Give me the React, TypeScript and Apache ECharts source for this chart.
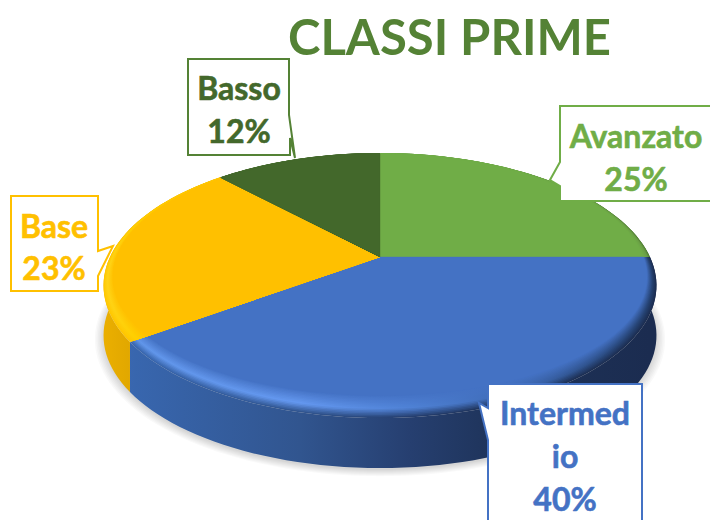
import React, { useEffect, useRef } from "react";
import * as echarts from "echarts";

const titleText = "CLASSI PRIME";
const categories = ["Avanzato", "Intermedio", "Base", "Basso"];
const percentValues = [25, 40, 23, 12];
const labelLines = [["Avanzato"], ["Intermed", "io"], ["Base"], ["Basso"]];

const faceColors = ["#70AD47", "#4472C4", "#FFC000", "#43682B"];
const textColors = ["#70AD47", "#4472C4", "#FFC000", "#43682B"];
const borderColors = ["#70AD47", "#4472C4", "#FFC000", "#548235"];

const stopX = [100, 135, 300, 410, 500, 650];
const peakColors = [
  ["#70AD47", "#70AD47", "#70AD47", "#70AD47", "#70AD47", "#6A9F45"],
  ["#6A9DEE", "#6196EA", "#6498F0", "#4F82D6", "#3F6CB8", "#24406F"],
  ["#FFD51F", "#FFD000", "#FFC000", "#FFC000", "#FFC000", "#FFC000"],
  ["#43682B", "#43682B", "#43682B", "#43682B", "#43682B", "#43682B"],
];
const wallColors = [
  ["#5A8C38", "#5A8C38", "#5A8C38", "#5A8C38", "#5A8C38", "#46702C"],
  ["#3F6BB4", "#3866AE", "#31558F", "#263F70", "#1E3359", "#1B2C50"],
  ["#ECB000", "#DFA600", "#DFA600", "#DFA600", "#DFA600", "#DFA600"],
  ["#43682B", "#43682B", "#43682B", "#43682B", "#43682B", "#43682B"],
];
const rimOuterColors = [
  ["#6BA544", "#6BA544", "#6BA544", "#6BA544", "#6BA544", "#4E7C32"],
  ["#3F6BB4", "#3866AE", "#31558F", "#263F70", "#1E3359", "#1B2C50"],
  ["#FFC800", "#FFC400", "#FFC000", "#FFC000", "#FFC000", "#FFC000"],
  ["#43682B", "#43682B", "#43682B", "#43682B", "#43682B", "#43682B"],
];

const CX = 380, CY = 257, A = 270, B = 126.4, P = 0.215, DEPTH = 50;
const LAYERS = 16;

const project = (f: number, r: number, dy = 0): number[] => {
  const a = f * Math.PI * 2;
  const u = r * Math.sin(a);
  const v = -r * Math.cos(a);
  const d = 1 - P * v;
  return [CX + (A * u) / d, CY + (B * v) / d + dy];
};

const hex = (c: string) => [1, 3, 5].map((i) => parseInt(c.slice(i, i + 2), 16));
const mix = (a: string, b: string, t: number) => {
  const x = hex(a), y = hex(b);
  return `rgb(${x.map((k, i) => Math.round(k + (y[i] - k) * t)).join(",")})`;
};

const sliceRange = (index: number) => {
  const total = percentValues.reduce((s, v) => s + v, 0);
  const start = percentValues.slice(0, index).reduce((s, v) => s + v, 0) / total;
  return [start, start + percentValues[index] / total];
};

const arc = (f0: number, f1: number, radius: (f: number) => number, dy = 0) => {
  const n = Math.max(8, Math.ceil((f1 - f0) * 180));
  const pts: number[][] = [];
  for (let i = 0; i <= n; i++) {
    const f = f0 + ((f1 - f0) * i) / n;
    pts.push(project(f, radius(f), dy));
  }
  return pts;
};

const gradient = (colorAt: (k: number) => string) =>
  new echarts.graphic.LinearGradient(
    stopX[0], 0, stopX[stopX.length - 1], 0,
    stopX.map((x, k) => ({
      offset: (x - stopX[0]) / (stopX[stopX.length - 1] - stopX[0]),
      color: colorAt(k),
    })),
    true
  );

const layerFill = (index: number, t: number) =>
  gradient((k) => {
    const outer = rimOuterColors[index][k], peak = peakColors[index][k], face = faceColors[index];
    if (t < 0.38) return mix(outer, peak, t / 0.38);
    return mix(peak, face, (t - 0.38) / 0.62);
  });

const renderWall = (params: any) => {
  const i = params.dataIndex;
  const [f0, f1] = sliceRange(i);
  const children: any[] = [];
  if (i === 0) {
    for (let s = 0; s < 7; s++) {
      children.push({
        type: "polygon",
        shape: { points: arc(0, 1, () => 1.03 - s * 0.005, DEPTH + 2) },
        style: { fill: "#000000", opacity: 0.022, stroke: "none" },
        silent: true,
      });
    }
  }
  const top = arc(f0, f1, () => 1);
  const bottom = arc(f0, f1, () => 1, DEPTH).reverse();
  children.push({
    type: "polygon",
    shape: { points: top.concat(bottom) },
    style: { fill: gradient((k) => wallColors[i][k]) },
  });
  return { type: "group", children };
};

const rimWidth = (f: number) => {
  const v = -Math.cos(f * Math.PI * 2);
  return 0.012 + 0.1 * Math.pow((1 + v) / 2, 3);
};

const renderFace = (params: any) => {
  const i = params.dataIndex;
  const [f0, f1] = sliceRange(i);
  const center = project(0, 0);
  const children: any[] = [];
  for (let l = 0; l < LAYERS; l++) {
    const t = l / (LAYERS - 1);
    const pts = arc(f0, f1, (f) => 1 - t * rimWidth(f));
    children.push({
      type: "polygon",
      shape: { points: [center, ...pts] },
      style: {
        fill: l === LAYERS - 1 ? faceColors[i] : layerFill(i, t),
        stroke: l === LAYERS - 1 ? faceColors[i] : "none",
        lineWidth: l === LAYERS - 1 ? 0.4 : 0,
      },
    });
  }
  return { type: "group", children };
};

const callouts = [
  { i: 0, cx: 636, ys: [135, 178], pts: [[560, 106], [720, 106], [720, 201], [560, 201], [560, 186], [550, 180], [560, 162]] },
  { i: 1, cx: 565, ys: [412, 455, 498], pts: [[488, 384], [642, 384], [642, 530], [488, 530], [488, 440], [479, 403], [488, 408]] },
  { i: 2, cx: 54, ys: [225, 267], pts: [[11, 196], [98, 196], [98, 251], [113, 246], [98, 276], [98, 291], [11, 291]] },
  { i: 3, cx: 239, ys: [87, 130], pts: [[188, 59], [289, 59], [289, 115], [295, 158], [290, 138], [290, 155], [188, 155]] },
];

const calloutGraphics = () =>
  callouts.flatMap((c) => {
    const lines = [...labelLines[c.i], `${percentValues[c.i]}%`];
    return [
      {
        type: "polygon",
        z: 10,
        shape: { points: c.pts },
        style: { fill: "#FFFFFF", stroke: borderColors[c.i], lineWidth: 2 },
      },
      ...lines.map((text, k) => ({
        type: "text",
        z: 11,
        x: c.cx,
        y: c.ys[k],
        style: {
          text,
          fill: textColors[c.i],
          stroke: textColors[c.i],
          lineWidth: 0.6,
          font: "bold 32px Lato",
          textAlign: "center",
          textVerticalAlign: "middle",
        },
      })),
    ];
  });

export default function App() {
  const ref = useRef<HTMLDivElement>(null);
  useEffect(() => {
    const chart = echarts.init(ref.current!, undefined, { renderer: "svg" });
    const data = categories.map((name, i) => ({ name, value: percentValues[i] }));
    chart.setOption({
      animation: false,
      backgroundColor: "#FFFFFF",
      title: {
        text: titleText,
        left: 283,
        top: 6,
        textStyle: { color: "#548235", fontFamily: "Lato", fontWeight: "bold", fontSize: 49 },
      },
      series: [
        { type: "custom", coordinateSystem: "none", renderItem: renderWall, data, z: 1, silent: true },
        { type: "custom", coordinateSystem: "none", renderItem: renderFace, data, z: 2, silent: true },
      ],
      graphic: calloutGraphics(),
    });
    return () => chart.dispose();
  }, []);
  return <div ref={ref} style={{ position: "fixed", left: 0, top: 0, width: 710, height: 520 }} />;
}
